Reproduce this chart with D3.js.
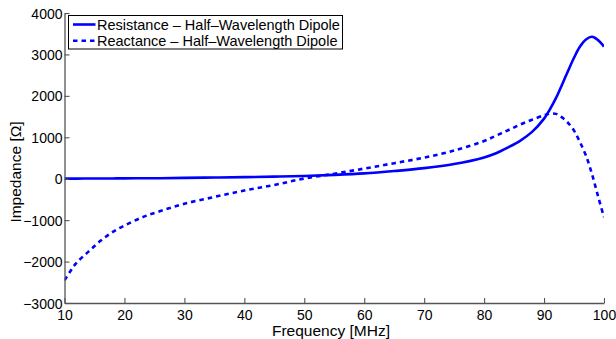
<!DOCTYPE html>
<html>
<head>
<meta charset="utf-8">
<script src="https://cdn.jsdelivr.net/npm/d3@7"></script>
<style>
  html, body { margin: 0; padding: 0; background: #fff; }
  svg { display: block; font-family: "Liberation Sans", Arial, Helvetica, sans-serif; }
</style>
</head>
<body>
<svg id="chart" width="616" height="339"></svg>
<script>
// Input impedance of a fixed-length dipole swept in frequency
const frequency = [10, 11, 12, 14, 16, 18, 20, 23, 26, 30, 35, 40, 45, 50, 55, 60, 65, 70, 75, 80, 82, 84, 86, 88, 90, 91, 92, 93, 94, 95, 96, 97, 98, 99, 100];
const resistance = [2, 2.5, 3, 4, 5, 6.5, 8, 10.5, 13, 20, 28, 38, 50, 66, 92, 128, 185, 255, 355, 515, 615, 755, 915, 1130, 1450, 1680, 1950, 2270, 2600, 2920, 3190, 3360, 3425, 3345, 3190];
const reactance = [-2450, -2230, -2030, -1760, -1500, -1290, -1130, -930, -780, -605, -440, -285, -150, 5, 120, 245, 375, 510, 680, 910, 1040, 1170, 1305, 1425, 1530, 1572, 1565, 1480, 1350, 1160, 880, 555, 110, -420, -930];

const xTicks = [10, 20, 30, 40, 50, 60, 70, 80, 90, 100];
const yTicks = [-3000, -2000, -1000, 0, 1000, 2000, 3000, 4000];
const seriesNames = ["Resistance \u2013 Half\u2013Wavelength Dipole", "Reactance \u2013 Half\u2013Wavelength Dipole"];

const svg = d3.select("#chart");
const margin = { left: 64.5, right: 12, top: 13, bottom: 36 };
const W = 616, H = 339;
const tickFont = "14px";
const titleFont = "15.5px";
const legendFont = "14.5px";

const x = d3.scaleLinear().domain([10, 100]).range([margin.left, W - margin.right]);
const y = d3.scaleLinear().domain([-3000, 4000]).range([H - margin.bottom, margin.top]);

const axisColor = "#555";
const blue = "#0000ff";

// clip for the curves
svg.append("defs").append("clipPath").attr("id", "plotclip")
  .append("rect")
  .attr("x", x(10)).attr("y", y(4000))
  .attr("width", x(100) - x(10)).attr("height", y(-3000) - y(4000));

// curves
const line = (vals) => d3.line()
  .x((d, i) => x(frequency[i]))
  .y(d => y(d))
  .curve(d3.curveCatmullRom.alpha(0.5))(vals);

const curves = svg.append("g").attr("clip-path", "url(#plotclip)");
curves.append("path")
  .attr("d", line(reactance))
  .attr("fill", "none")
  .attr("stroke", blue)
  .attr("stroke-width", 2.6)
  .attr("stroke-dasharray", "4.5,4");
curves.append("path")
  .attr("d", line(resistance))
  .attr("fill", "none")
  .attr("stroke", blue)
  .attr("stroke-width", 2.6);

// x axis (ticks inward)
const xAxis = svg.append("g")
  .attr("transform", `translate(0,${y(-3000)})`)
  .call(d3.axisBottom(x).tickValues(xTicks).tickSizeInner(-5).tickSizeOuter(0).tickFormat(d3.format("d")));

// y axis (ticks inward)
const yAxis = svg.append("g")
  .attr("transform", `translate(${x(10)},0)`)
  .call(d3.axisLeft(y).tickValues(yTicks).tickSizeInner(-5).tickSizeOuter(0).tickPadding(2)
    .tickFormat(d => d < 0 ? "\u2212" + Math.abs(d) : String(d)));

[xAxis, yAxis].forEach(g => {
  g.select(".domain").attr("stroke", axisColor).attr("stroke-width", 1.3);
  g.selectAll(".tick line").attr("stroke", axisColor).attr("stroke-width", 1.1);
  g.selectAll(".tick text").attr("fill", "#000").style("font-size", tickFont)
    .style("font-family", "'Liberation Sans', Arial, Helvetica, sans-serif");
});
xAxis.selectAll(".tick text").attr("y", 16.5).attr("dy", 0);
yAxis.selectAll(".tick text").attr("dy", "0.36em");

// axis titles
svg.append("text")
  .attr("x", 331)
  .attr("y", 336)
  .attr("text-anchor", "middle")
  .style("font-size", titleFont)
  .text("Frequency [MHz]");

svg.append("text")
  .attr("transform", `translate(21,172) rotate(-90)`)
  .attr("text-anchor", "middle")
  .style("font-size", titleFont)
  .text("Impedance [\u03A9]");

// legend
const legend = svg.append("g");
legend.append("rect")
  .attr("x", 68.5).attr("y", 15.5)
  .attr("width", 274).attr("height", 33.5)
  .attr("fill", "#fff").attr("stroke", "#000").attr("stroke-width", 1);
seriesNames.forEach((name, i) => {
  const cy = 24.5 + i * 16.3;
  legend.append("line")
    .attr("x1", 73).attr("x2", 95.5)
    .attr("y1", cy).attr("y2", cy)
    .attr("stroke", blue).attr("stroke-width", 2.6)
    .attr("stroke-dasharray", i === 1 ? "4.5,4" : null);
  legend.append("text")
    .attr("x", 97).attr("y", cy)
    .attr("dy", "0.36em")
    .style("font-size", legendFont)
    .text(name);
});
</script>
</body>
</html>
